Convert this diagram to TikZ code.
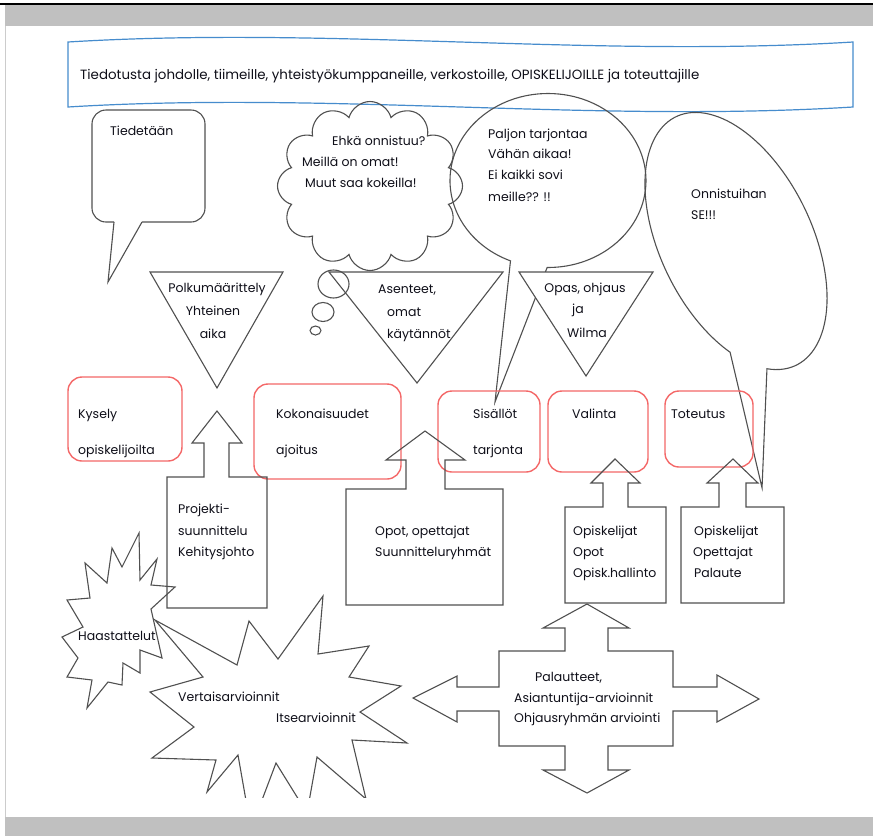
\documentclass[tikz,border=0pt]{standalone}
\usepackage{fontspec}
\setmainfont{Poppins}
\usetikzlibrary{shapes.symbols}
\definecolor{pagegray}{RGB}{192,192,192}
\definecolor{shapegray}{RGB}{80,80,80}
\definecolor{boxred}{RGB}{244,104,104}
\definecolor{bannerblue}{RGB}{70,140,205}
\definecolor{txt}{RGB}{15,15,25}
\newcommand\fsmain{\fontsize{12.5}{15}\selectfont}
\newcommand\fsbanner{\fontsize{13.4}{15}\selectfont}
\tikzset{
  shp/.style={draw=shapegray, line width=1.1pt, line join=miter},
  redbox/.style={draw=boxred, line width=1.4pt, rounded corners=14pt},
  lbl/.style={inner sep=0pt, anchor=base west, font=\fsmain, text=txt},
  lblc/.style={inner sep=0pt, anchor=base, font=\fsmain, text=txt},
}
\begin{document}
\begin{tikzpicture}[x=1pt, y=-1pt]
\useasboundingbox (0,0) rectangle (873,836);
% page frame
\fill[white] (0,0) rectangle (873,836);
\draw[black, line width=1.5pt] (0,4) -- (873,4);
\fill[pagegray] (5,5) rectangle (873,26);
\fill[pagegray] (5,817) rectangle (873,836);
\draw[gray!40, line width=0.6pt] (5,26) -- (5,817);

% banner
\draw[bannerblue, line width=1.2pt] (68,42) .. controls (330,26) and (590,58) .. (853,42) -- (853,107) .. controls (590,123) and (330,91) .. (68,107) -- cycle;
\node[lbl, font=\fsbanner] (banner) at (80,79) {Tiedotusta johdolle, tiimeille, yhteistyökumppaneille, verkostoille, OPISKELIJOILLE ja toteuttajille};

% Tiedetaan callout
\draw[shp, rounded corners=14pt] (114,222) -- (92,222) -- (92,110) -- (205,110) -- (205,222) -- (142,222);
\draw[shp] (114,222) -- (108,282) -- (142,222);
\node[lbl] (tiedetaan) at (110,135) {Tiedetään};

% cloud
\node[cloud, shp, cloud puffs=12, aspect=1.1, minimum width=185pt, minimum height=169pt, inner sep=0pt] (cloud) at (370,186) {};
\draw[shp] (333.5,284) ellipse [x radius=15.5pt, y radius=14pt];
\draw[shp] (323,312) ellipse [x radius=11pt, y radius=9.5pt];
\draw[shp] (315.5,330.5) ellipse [x radius=5.5pt, y radius=4.5pt];
\node[lbl] (c1) at (332,145) {Ehkä onnistuu?};
\node[lbl] (c2) at (302,166) {Meillä on omat!};
\node[lbl] (c3) at (305,187) {Muut saa kokeilla!};

% Paljon ellipse callout
\draw[shp] ([shift={(548,180.5)}]-90.5:98pt and 87pt) arc[start angle=-90.5, end angle=247.5, x radius=98pt, y radius=87pt] -- (495,402) -- cycle;
\node[lbl] (p1) at (488,138) {Paljon tarjontaa};
\node[lbl] (p2) at (488,158) {Vähän aikaa!};
\node[lbl] (p3) at (488,179) {Ei kaikki sovi};
\node[lbl] (p4) at (488,201) {meille?? !!};

% Onnistuihan ellipse callout
\begin{scope}[shift={(736,241)}, rotate=-64.2]
\draw[shp] (-21.4:138pt and 76pt) arc[start angle=-21.4, end angle=315, x radius=138pt, y radius=76pt] -- (233.6pt,-84pt) -- cycle;
\end{scope}
\node[lbl] (o1) at (691,198) {Onnistuihan};
\node[lbl] (o2) at (691,219) {SE!!!};

% triangles
\draw[shp] (150,272) -- (283,272) -- (217,388) -- cycle;
\draw[shp] (329,272) -- (503,272) -- (417,383) -- cycle;
\draw[shp, fill=white] (519,272) -- (653,272) -- (586,376) -- cycle;
\node[lblc] (t1a) at (217,292) {Polkumäärittely};
\node[lblc] (t1b) at (213,315) {Yhteinen};
\node[lblc] (t1c) at (213,338) {aika};
\node[lbl] (t2a) at (378,293) {Asenteet,};
\node[lbl] (t2b) at (387,316) {omat};
\node[lbl] (t2c) at (387,338) {käytännöt};
\node[lblc] (t3a) at (585,292) {Opas, ohjaus};
\node[lblc] (t3b) at (578,313) {ja};
\node[lblc] (t3c) at (587,337) {Wilma};

% red boxes
\draw[redbox] (68,377) rectangle (182,461);
\draw[redbox] (254,384) rectangle (401,479);
\draw[redbox] (438,391) rectangle (540,472);
\draw[redbox] (548,391) rectangle (648,472);
\draw[redbox] (665,391) rectangle (753,467);
\node[lbl] (k1) at (78,418) {Kysely};
\node[lbl] (k2) at (78,454) {opiskelijoilta};
\node[lbl] (ko1) at (276,418) {Kokonaisuudet};
\node[lbl] (ko2) at (276,454) {ajoitus};
\node[lbl] (s1) at (473,418) {Sisällöt};
\node[lbl] (s2) at (473,454) {tarjonta};
\node[lbl] (v1) at (572,418) {Valinta};
\node[lbl] (to1) at (671,418) {Toteutus};

% up arrow callouts
\draw[shp] (167,477) -- (204,477) -- (204,443) -- (192,443) -- (217,411) -- (242,443) -- (229,443) -- (229,477) -- (267,477) -- (267,608) -- (167,608) -- cycle;
\draw[shp] (346,489) -- (406,489) -- (406,460) -- (386,460) -- (425,431) -- (465,460) -- (445,460) -- (445,489) -- (503,489) -- (503,605) -- (346,605) -- cycle;
\draw[shp] (565,507) -- (603,507) -- (603,483) -- (591,483) -- (615,459) -- (640,483) -- (628,483) -- (628,507) -- (666,507) -- (666,603) -- (565,603) -- cycle;
\draw[shp] (681,507) -- (719,507) -- (719,483) -- (707,483) -- (733,459) -- (758,483) -- (746,483) -- (746,507) -- (784,507) -- (784,603) -- (681,603) -- cycle;
\node[lbl] (a1a) at (178,513) {Projekti-};
\node[lbl] (a1b) at (178,535) {suunnittelu};
\node[lbl] (a1c) at (178,556) {Kehitysjohto};
\node[lbl] (a2a) at (375,535) {Opot, opettajat};
\node[lbl] (a2b) at (375,556) {Suunnitteluryhmät};
\node[lbl] (a3a) at (573,535) {Opiskelijat};
\node[lbl] (a3b) at (573,556) {Opot};
\node[lbl] (a3c) at (573,577) {Opisk.hallinto};
\node[lbl] (a4a) at (694,535) {Opiskelijat};
\node[lbl] (a4b) at (693,556) {Opettajat};
\node[lbl] (a4c) at (694,577) {Palaute};

% four-way arrow
\draw[shp] (499,651) -- (565,651) -- (565,628) -- (543,628) -- (587,604) -- (629,628) -- (608,628) -- (608,651) -- (673,651) -- (673,687) -- (717,687) -- (717,675) -- (759,699) -- (717,722) -- (717,711) -- (673,711) -- (673,746) -- (608,746) -- (608,770) -- (629,770) -- (587,793) -- (543,770) -- (565,770) -- (565,746) -- (499,746) -- (499,711) -- (457,711) -- (457,722) -- (413,698) -- (457,676) -- (457,687) -- (499,687) -- cycle;
\node[lbl] (f1) at (535,681) {Palautteet,};
\node[lbl] (f2) at (514,702) {Asiantuntija-arvioinnit};
\node[lbl] (f3) at (514,722) {Ohjausryhmän arviointi};

% starbursts
\draw[shp] (139,533) -- (140,580) -- (157,559) -- (151,585) -- (175,587) -- (151,609) -- (162,658) -- (140,650) -- (140,673) -- (123,663) -- (122,685) -- (108,682) -- (87,708) -- (92,680) -- (67,677) -- (78,658) -- (62,637) -- (83,627) -- (67,600) -- (90,598) -- (85,563) -- (107,583) -- (112,548) -- (122,567) -- cycle;
\node[lbl] (h1) at (78,640) {Haastattelut};
\begin{scope}
\clip (0,500) rectangle (873,797);
\draw[shp] (155,620) -- (237,665) -- (249,621) -- (278,659) -- (323,596) -- (318,654) -- (369,646) -- (349,677) -- (401,686) -- (360,712) -- (407,743) -- (352,740) -- (366,799) -- (317,757) -- (307,813) -- (276,763) -- (251,829) -- (238,755) -- (207,792) -- (216,760) -- (152,758) -- (194,727) -- (150,692) -- (203,677) -- cycle;
\end{scope}
\node[lbl] (b1) at (178,701) {Vertaisarvioinnit};
\node[lbl] (b2) at (276,722) {Itsearvioinnit};
\end{tikzpicture}
\end{document}
